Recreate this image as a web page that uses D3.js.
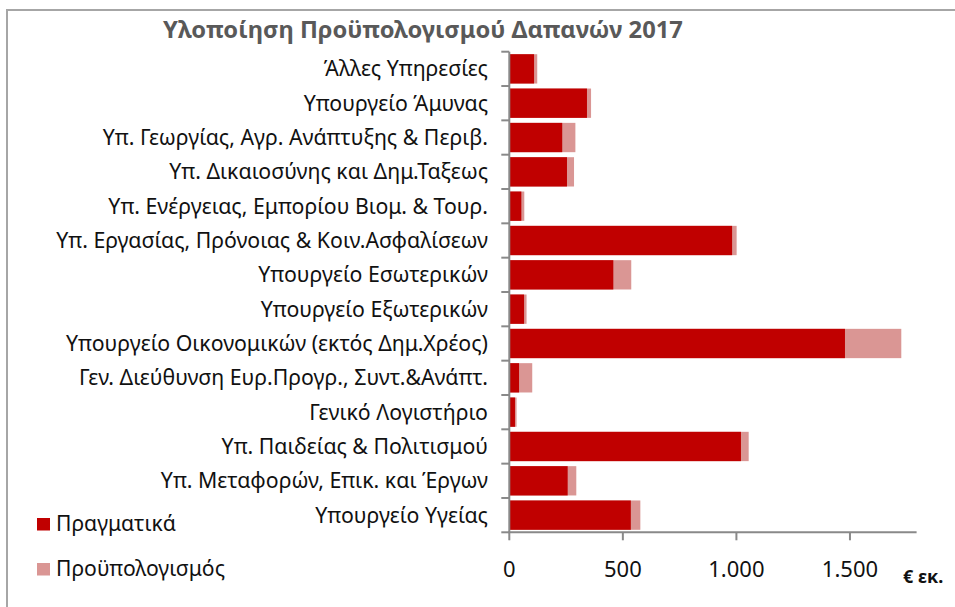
<!DOCTYPE html>
<html>
<head>
<meta charset="utf-8">
<script src="https://cdn.jsdelivr.net/npm/d3@7"></script>
<style>
  html, body { margin: 0; padding: 0; background: #fff; }
  svg { display: block; }
</style>
</head>
<body>
<svg id="chart" width="955" height="607"></svg>
<script>
const title = "Υλοποίηση Προϋπολογισμού Δαπανών 2017";
const categories = [
  "Άλλες Υπηρεσίες",
  "Υπουργείο Άμυνας",
  "Υπ. Γεωργίας, Αγρ. Ανάπτυξης & Περιβ.",
  "Υπ. Δικαιοσύνης και Δημ.Ταξεως",
  "Υπ. Ενέργειας, Εμπορίου Βιομ. & Τουρ.",
  "Υπ. Εργασίας, Πρόνοιας & Κοιν.Ασφαλίσεων",
  "Υπουργείο Εσωτερικών",
  "Υπουργείο Εξωτερικών",
  "Υπουργείο Οικονομικών (εκτός Δημ.Χρέος)",
  "Γεν. Διεύθυνση Ευρ.Προγρ., Συντ.&Ανάπτ.",
  "Γενικό Λογιστήριο",
  "Υπ. Παιδείας & Πολιτισμού",
  "Υπ. Μεταφορών, Επικ. και Έργων",
  "Υπουργείο Υγείας"
];
const actual = [109, 342, 233, 254, 53, 981, 458, 65, 1478, 43, 25, 1020, 257, 535];
const budget = [123, 360, 291, 285, 66, 1001, 537, 76, 1726, 101, 32, 1054, 295, 577];
const seriesNames = ["Πραγματικά", "Προϋπολογισμός"];
const xTicks = [0, 500, 1000, 1500];
const xMax = 1800;
const unitLabel = "€ εκ.";

const colors = ["#C00000", "#DA9694"];
const axisColor = "#898989";
const FONT = "'Noto Sans', 'Open Sans', sans-serif";

const svg = d3.select("#chart");

// outer frame
svg.append("rect")
  .attr("x", 7).attr("y", 10)
  .attr("width", 1000).attr("height", 700)
  .attr("fill", "none")
  .attr("stroke", "#a6a6a6")
  .attr("stroke-width", 2);

const plot = { left: 509.3, right: 918.1, top: 51.7, bottom: 532.3 };

const x = d3.scaleLinear().domain([0, xMax]).range([plot.left, plot.right]);
const y = d3.scaleBand().domain(categories).range([plot.top, plot.bottom]).paddingInner(0.146).paddingOuter(0.073);
const yEdges = d3.scaleBand().domain(categories).range([plot.top, plot.bottom]);

const grLocale = d3.formatLocale({ decimal: ",", thousands: ".", grouping: [3], currency: ["€", ""] });
const fmt = grLocale.format(",");

// budget bars (behind)
svg.append("g").selectAll("rect").data(categories).join("rect")
  .attr("x", x(0))
  .attr("y", d => y(d))
  .attr("width", (d, i) => x(budget[i]) - x(0))
  .attr("height", y.bandwidth())
  .attr("fill", colors[1]);

// actual bars (front)
svg.append("g").selectAll("rect").data(categories).join("rect")
  .attr("x", x(0))
  .attr("y", d => y(d))
  .attr("width", (d, i) => x(actual[i]) - x(0))
  .attr("height", y.bandwidth())
  .attr("fill", colors[0]);

// vertical axis line + ticks at category boundaries
const vAxis = svg.append("g");
vAxis.append("line")
  .attr("x1", plot.left).attr("x2", plot.left)
  .attr("y1", plot.top).attr("y2", plot.bottom)
  .attr("stroke", axisColor).attr("stroke-width", 2);
const edges = categories.map(c => yEdges(c)).concat([plot.bottom]);
vAxis.selectAll("line.tick").data(edges).join("line")
  .attr("class", "tick")
  .attr("x1", plot.left - 8).attr("x2", plot.left)
  .attr("y1", d => d).attr("y2", d => d)
  .attr("stroke", axisColor).attr("stroke-width", 2);

// category labels
const labels = svg.append("g").selectAll("text").data(categories).join("text")
  .attr("x", 488)
  .attr("y", d => yEdges(d) + yEdges.bandwidth() / 2)
  .attr("dy", "0.35em")
  .attr("text-anchor", "end")
  .attr("font-family", FONT)
  .attr("font-size", 18)
  .attr("fill", "#111")
  .text(d => d);
// fit longest label width to the reference (~432px)
let maxW = 0;
labels.each(function () { maxW = Math.max(maxW, this.getComputedTextLength()); });
const labelSize = 18 * 432 / maxW;
labels.attr("font-size", labelSize);

// horizontal axis
const hAxis = svg.append("g");
hAxis.append("line")
  .attr("x1", plot.left - 1).attr("x2", plot.right - 1.5)
  .attr("y1", plot.bottom).attr("y2", plot.bottom)
  .attr("stroke", axisColor).attr("stroke-width", 2);
hAxis.selectAll("line.tick").data(xTicks).join("line")
  .attr("class", "tick")
  .attr("x1", d => x(d)).attr("x2", d => x(d))
  .attr("y1", plot.bottom).attr("y2", plot.bottom + 8)
  .attr("stroke", axisColor).attr("stroke-width", 2);
hAxis.selectAll("text").data(xTicks).join("text")
  .attr("x", d => x(d))
  .attr("y", 576.5)
  .attr("text-anchor", "middle")
  .attr("font-family", FONT)
  .attr("font-size", 22)
  .attr("fill", "#111")
  .text(d => fmt(d));

svg.append("text")
  .attr("x", 903).attr("y", 583)
  .attr("font-family", FONT)
  .attr("font-weight", "bold")
  .attr("font-size", 18)
  .attr("fill", "#111")
  .text(unitLabel);

// title
const t = svg.append("text")
  .attr("x", 423).attr("y", 38)
  .attr("text-anchor", "middle")
  .attr("font-family", FONT)
  .attr("font-weight", "bold")
  .attr("font-size", 22)
  .attr("fill", "#595959")
  .text(title);
const tw = t.node().getComputedTextLength();
t.attr("font-size", 22 * 520 / tw);

// legend
const legend = svg.append("g");
const legY = [518, 563];
const legTexts = [];
seriesNames.forEach((name, i) => {
  legend.append("rect")
    .attr("x", 37).attr("y", legY[i])
    .attr("width", 13).attr("height", 12.5)
    .attr("fill", colors[i]);
  legTexts.push(legend.append("text")
    .attr("x", 56).attr("y", legY[i] + 13)
    .attr("font-family", FONT)
    .attr("font-size", 18)
    .attr("fill", "#111")
    .text(name));
});
// fit legend text width to reference (~169px for the longer entry)
const lw = legTexts[1].node().getComputedTextLength();
const legSize = 18 * 169 / lw;
legTexts.forEach(tx => tx.attr("font-size", legSize));
</script>
</body>
</html>
